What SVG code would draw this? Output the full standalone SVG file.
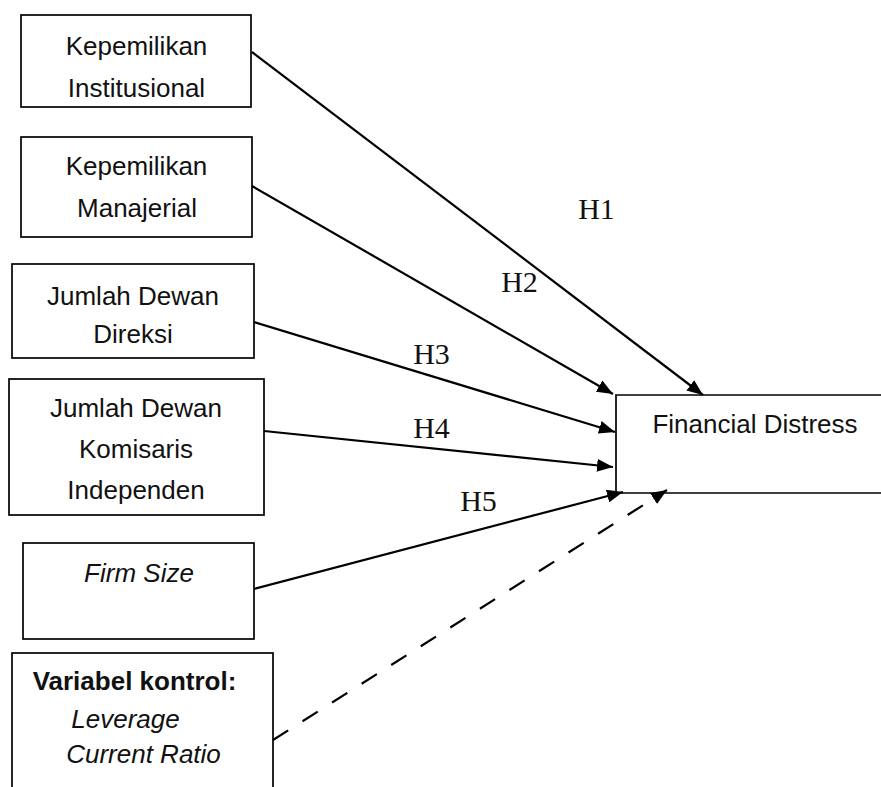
<svg xmlns="http://www.w3.org/2000/svg" width="881" height="787" viewBox="0 0 881 787">
<style>
.box{fill:#fff;stroke:#000;stroke-width:1.7}
.t{font-family:"Liberation Sans",Arial,sans-serif;font-size:26px;fill:#111;text-anchor:middle}
.i{font-style:italic}
.b{font-weight:bold}
.h{font-family:"Liberation Serif","Times New Roman",serif;font-size:30px;fill:#111;text-anchor:middle}
.c{fill:none;stroke:#000;stroke-width:2.2}
.d{stroke-dasharray:18 17}
</style>
<defs>
<marker id="ah" viewBox="0 0 16 13" refX="16" refY="6.5" markerWidth="16" markerHeight="13" markerUnits="userSpaceOnUse" orient="auto">
<path d="M0,0 L16,6.5 L0,13 z" fill="#000"/>
</marker>
</defs>
<rect width="881" height="787" fill="#fff"/>
<g id="n1">
<rect class="box" x="21" y="15" width="230" height="92"/>
<text class="t" x="136.5" y="55">Kepemilikan</text>
<text class="t" x="136.5" y="97">Institusional</text>
</g>
<g id="n2">
<rect class="box" x="21" y="137" width="231" height="100"/>
<text class="t" x="136.5" y="175">Kepemilikan</text>
<text class="t" x="137" y="217">Manajerial</text>
</g>
<g id="n3">
<rect class="box" x="12" y="264" width="242" height="94"/>
<text class="t" x="133" y="305">Jumlah Dewan</text>
<text class="t" x="133" y="343">Direksi</text>
</g>
<g id="n4">
<rect class="box" x="9" y="379" width="255" height="136"/>
<text class="t" x="136" y="417">Jumlah Dewan</text>
<text class="t" x="136" y="458">Komisaris</text>
<text class="t" x="136" y="499">Independen</text>
</g>
<g id="n5">
<rect class="box" x="23" y="543" width="231" height="96"/>
<text class="t i" x="139" y="582">Firm Size</text>
</g>
<g id="n6">
<rect class="box" x="12" y="653" width="261" height="160"/>
<text class="t b" x="134.5" y="690">Variabel kontrol:</text>
<text class="t i" x="125.5" y="728">Leverage</text>
<text class="t i" x="143.5" y="763">Current Ratio</text>
</g>
<g id="fd">
<path d="M882,395 H616 V493 H882" fill="#fff" stroke="#000" stroke-width="1.7"/>
<text class="t" x="755" y="433">Financial Distress</text>
</g>
<g id="connectors">
<line class="c" x1="252" y1="52" x2="703" y2="395" marker-end="url(#ah)"/>
<line class="c" x1="252" y1="186" x2="613" y2="394" marker-end="url(#ah)"/>
<line class="c" x1="254" y1="322" x2="615" y2="432" marker-end="url(#ah)"/>
<line class="c" x1="264" y1="431" x2="613" y2="467" marker-end="url(#ah)"/>
<line class="c" x1="254" y1="589" x2="623" y2="492" marker-end="url(#ah)"/>
<line class="c d" x1="273" y1="740" x2="667" y2="490" marker-end="url(#ah)"/>
</g>
<g id="labels">
<text class="h" x="596.5" y="219">H1</text>
<text class="h" x="519.5" y="292">H2</text>
<text class="h" x="431.5" y="364">H3</text>
<text class="h" x="431.5" y="438">H4</text>
<text class="h" x="478.5" y="511">H5</text>
</g>
</svg>
